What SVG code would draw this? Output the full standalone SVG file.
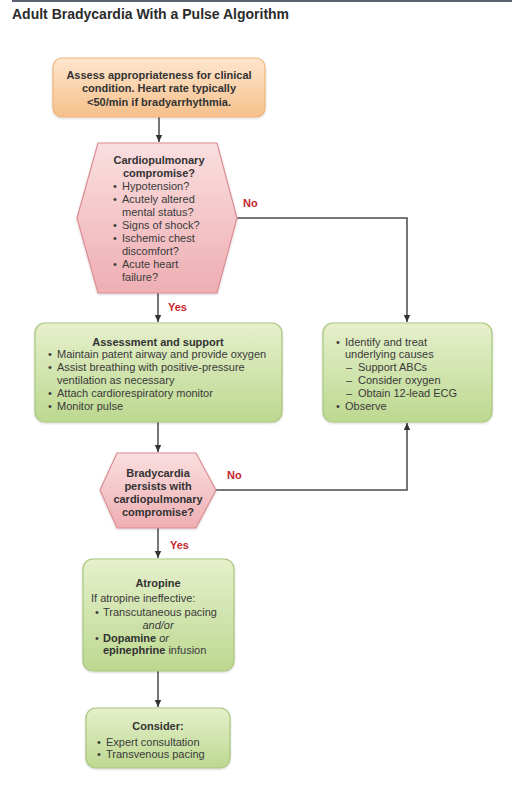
<svg xmlns="http://www.w3.org/2000/svg" width="512" height="788" viewBox="0 0 512 788">
<style>
text{font-family:"Liberation Sans",Arial,sans-serif;font-size:11px;fill:#3a3a3a}
.b{font-weight:bold;fill:#333}
.c{text-anchor:middle}
.lbl{font-weight:bold;fill:#c4282e}
.title{font-size:14px;font-weight:bold;fill:#2b2b2b}
.conn{fill:none;stroke:#4a4a4a;stroke-width:1.5}
.green{fill:url(#gg);stroke:#a9c77c;stroke-width:1.2}
.pink{fill:url(#pg);stroke:#dc8e94;stroke-width:1.2}
</style>
<defs>
<linearGradient id="og" x1="0" y1="0" x2="0" y2="1"><stop offset="0" stop-color="#fde6cf"/><stop offset="1" stop-color="#f6c08a"/></linearGradient>
<linearGradient id="pg" x1="0" y1="0" x2="0" y2="1"><stop offset="0" stop-color="#fadfe0"/><stop offset="1" stop-color="#eeaeb2"/></linearGradient>
<linearGradient id="gg" x1="0" y1="0" x2="0" y2="1"><stop offset="0" stop-color="#e6f0cc"/><stop offset="1" stop-color="#bcd890"/></linearGradient>
<filter id="sh" x="-10%" y="-10%" width="120%" height="130%"><feDropShadow dx="0" dy="1" stdDeviation="1" flood-color="#000" flood-opacity="0.18"/></filter>
<marker id="ah" markerUnits="userSpaceOnUse" markerWidth="8" markerHeight="8" refX="7" refY="4" orient="auto"><path d="M0,0.8 L7,4 L0,7.2 z" fill="#333"/></marker>
</defs>
<line x1="12" y1="1" x2="512" y2="1" stroke="#5b6272" stroke-width="2"/>
<text class="title" x="12" y="19">Adult Bradycardia With a Pulse Algorithm</text>
<g id="connectors">
<path class="conn" d="M159,117 V142" marker-end="url(#ah)"/>
<path class="conn" d="M237,218 H407 V322" marker-end="url(#ah)"/>
<path class="conn" d="M158,293 V322" marker-end="url(#ah)"/>
<path class="conn" d="M158,422 V452" marker-end="url(#ah)"/>
<path class="conn" d="M216,490 H407 V423" marker-end="url(#ah)"/>
<path class="conn" d="M158,528 V558" marker-end="url(#ah)"/>
<path class="conn" d="M158,671 V707" marker-end="url(#ah)"/>
<text class="lbl" x="243" y="207">No</text>
<text class="lbl" x="168" y="311">Yes</text>
<text class="lbl" x="227" y="479">No</text>
<text class="lbl" x="170" y="549">Yes</text>
</g>
<g id="assess">
<rect x="53" y="58" width="212" height="59" rx="9" fill="url(#og)" stroke="#efb57a" stroke-width="1.2" filter="url(#sh)"/>
<text class="b c" x="159" y="79">Assess appropriateness for clinical</text>
<text class="b c" x="159" y="92">condition. Heart rate typically</text>
<text class="b c" x="159" y="106">&lt;50/min if bradyarrhythmia.</text>
</g>
<g id="decision1">
<polygon class="pink" points="98,143 217,143 237,218 217,293 98,293 77,218" filter="url(#sh)"/>
<text class="b c" x="159" y="164">Cardiopulmonary</text>
<text class="b c" x="159" y="177">compromise?</text>
<text x="113" y="190">•</text><text x="122" y="190">Hypotension?</text>
<text x="113" y="203">•</text><text x="122" y="203">Acutely altered</text>
<text x="122" y="216">mental status?</text>
<text x="113" y="229">•</text><text x="122" y="229">Signs of shock?</text>
<text x="113" y="242">•</text><text x="122" y="242">Ischemic chest</text>
<text x="122" y="255">discomfort?</text>
<text x="113" y="268">•</text><text x="122" y="268">Acute heart</text>
<text x="122" y="281">failure?</text>
</g>
<g id="support">
<rect class="green" x="35" y="323" width="247" height="99" rx="10" filter="url(#sh)"/>
<text class="b c" x="158" y="345.5">Assessment and support</text>
<text x="48" y="357.5">•</text><text x="57" y="357.5">Maintain patent airway and provide oxygen</text>
<text x="48" y="370.5">•</text><text x="57" y="370.5">Assist breathing with positive-pressure</text>
<text x="57" y="383.5">ventilation as necessary</text>
<text x="48" y="396.5">•</text><text x="57" y="396.5">Attach cardiorespiratory monitor</text>
<text x="48" y="409.5">•</text><text x="57" y="409.5">Monitor pulse</text>
</g>
<g id="causes">
<rect class="green" x="323" y="323" width="169" height="99" rx="10" filter="url(#sh)"/>
<text x="336" y="345.5">•</text><text x="345" y="345.5">Identify and treat</text>
<text x="345" y="357.5">underlying causes</text>
<text x="346" y="370.5">–</text><text x="358" y="370.5">Support ABCs</text>
<text x="346" y="383.5">–</text><text x="358" y="383.5">Consider oxygen</text>
<text x="346" y="396.5">–</text><text x="358" y="396.5">Obtain 12-lead ECG</text>
<text x="336" y="409.5">•</text><text x="345" y="409.5">Observe</text>
</g>
<g id="decision2">
<polygon class="pink" points="117,453 196,453 216,490 196,528 117,528 100,490" filter="url(#sh)"/>
<text class="b c" x="158" y="477">Bradycardia</text>
<text class="b c" x="158" y="490">persists with</text>
<text class="b c" x="158" y="503">cardiopulmonary</text>
<text class="b c" x="158" y="516">compromise?</text>
</g>
<g id="atropine">
<rect class="green" x="83" y="559" width="151" height="112" rx="10" filter="url(#sh)"/>
<text class="b c" x="158" y="587">Atropine</text>
<text x="91" y="602">If atropine ineffective:</text>
<text x="95" y="616">•</text><text x="103" y="616">Transcutaneous pacing</text>
<text class="c" x="158" y="629" font-style="italic">and/or</text>
<text x="95" y="642">•</text><text x="103" y="642"><tspan class="b">Dopamine</tspan> <tspan font-style="italic">or</tspan></text>
<text x="103" y="654"><tspan class="b">epinephrine</tspan> infusion</text>
</g>
<g id="consider">
<rect class="green" x="86" y="708" width="144" height="60" rx="10" filter="url(#sh)"/>
<text class="b c" x="158" y="730">Consider:</text>
<text x="97" y="746">•</text><text x="106" y="746">Expert consultation</text>
<text x="97" y="758">•</text><text x="106" y="758">Transvenous pacing</text>
</g>
</svg>
